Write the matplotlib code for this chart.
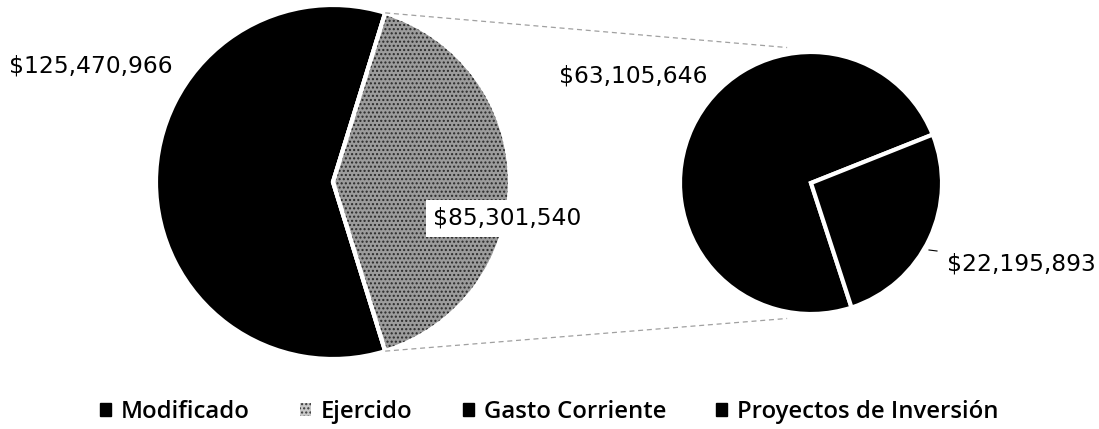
import matplotlib
matplotlib.use("Agg")
import matplotlib.pyplot as plt
import numpy as np
from matplotlib.patches import Patch, Wedge

# Data
main_labels = ["Modificado", "Ejercido"]
main_values = [125470966, 85301540]
sub_labels = ["Gasto Corriente", "Proyectos de Inversión"]
sub_values = [63105646, 22195893]
legend_labels = main_labels + sub_labels

W, H = 1099, 429
fig = plt.figure(figsize=(W / 100, H / 100), dpi=100)
ax = fig.add_axes([0, 0, 1, 1])

label_font = "DejaVu Sans"

# Left (main) pie
c1 = (333, H - 182)
r1 = 177
frac_ej = main_values[1] / sum(main_values)
start1 = 360 * frac_ej / 2
wedges1, _ = ax.pie(main_values, center=c1, radius=r1, startangle=start1,
                    colors=["black", "#9c9c9c"], counterclock=True,
                    wedgeprops=dict(edgecolor="white", linewidth=3),
                    frame=True)
w = wedges1[1]
ax.add_patch(Wedge(c1, r1, w.theta1, w.theta2, facecolor="none", edgecolor="#2a2a2a",
                   hatch="....", linewidth=0))
ax.add_patch(Wedge(c1, r1, w.theta1, w.theta2, facecolor="none", edgecolor="white", linewidth=3))

# Right (sub) pie
c2 = (811, H - 183)
r2 = 131
start2 = 21.7
wedges2, _ = ax.pie(sub_values, center=c2, radius=r2, startangle=start2,
                    colors=["black", "black"], counterclock=True,
                    wedgeprops=dict(edgecolor="white", linewidth=3),
                    frame=True)
ax.set_xlim(0, W)
ax.set_ylim(0, H)
ax.set_aspect("equal")
ax.axis("off")

# connector lines
for ang_main, ang_sub in [(w.theta2, 100), (w.theta1, 260)]:
    x0 = c1[0] + r1 * np.cos(np.radians(ang_main))
    y0 = c1[1] + r1 * np.sin(np.radians(ang_main))
    x1 = c2[0] + r2 * 1.05 * np.cos(np.radians(ang_sub))
    y1 = c2[1] + r2 * 1.05 * np.sin(np.radians(ang_sub))
    ax.plot([x0, x1], [y0, y1], color="#a0a0a0", lw=0.9, ls=(0, (4, 3)))

def money(v):
    return "${:,}".format(v)

fs = 16.8
ax.text(9, H - 66, money(main_values[0]), fontsize=fs, family=label_font,
        ha="left", va="center", color="black")
ax.text(433, H - 218, money(main_values[1]), fontsize=fs, family=label_font,
        ha="left", va="center", color="black",
        bbox=dict(facecolor="white", edgecolor="none", pad=5))
ax.text(559, H - 76, money(sub_values[0]), fontsize=fs, family=label_font,
        ha="left", va="center", color="black")
ax.text(947, H - 264, money(sub_values[1]), fontsize=fs, family=label_font,
        ha="left", va="center", color="black")
ax.plot([929, 937], [H - 250, H - 251], color="black", lw=0.8)

# legend
handles = [Patch(facecolor="black", edgecolor="black"),
           Patch(facecolor="#c8c8c8", edgecolor="#3a3a3a", hatch="....", linewidth=0),
           Patch(facecolor="black", edgecolor="black"),
           Patch(facecolor="black", edgecolor="black")]
leg = fig.legend(handles, legend_labels, loc="center", bbox_to_anchor=(0.5, 1 - 412 / H),
                 ncol=4, frameon=False, handlelength=0.46, handleheight=0.46,
                 handletextpad=0.42, columnspacing=2.1,
                 prop=dict(family="Open Sans", weight="semibold", size=17.2))

fig.savefig("out.png", dpi=100)
